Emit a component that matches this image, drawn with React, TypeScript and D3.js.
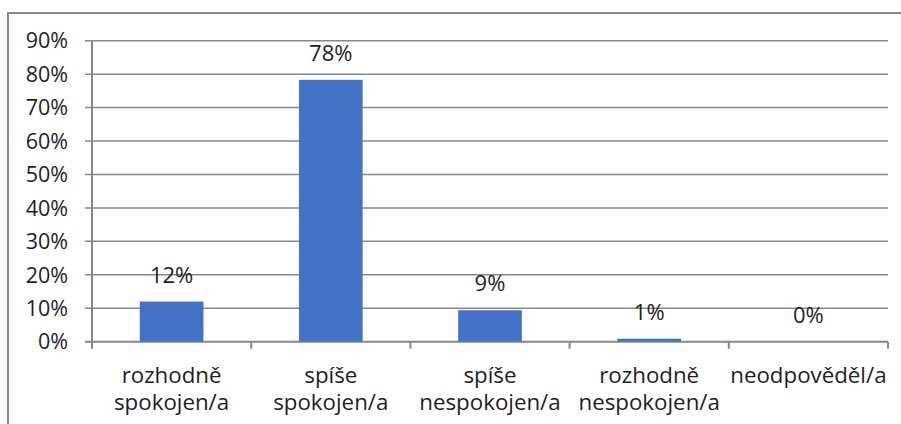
import React from "react";
import * as d3 from "d3";

const categories: string[][] = [
  ["rozhodně", "spokojen/a"],
  ["spíše", "spokojen/a"],
  ["spíše", "nespokojen/a"],
  ["rozhodně", "nespokojen/a"],
  ["neodpověděl/a"],
];
const values: number[] = [12.0, 78.3, 9.4, 0.9, 0];
const yTicks: number[] = [0, 10, 20, 30, 40, 50, 60, 70, 80, 90];

const W = 901;
const H = 424;
const plotLeft = 92;
const plotRight = 888;
const plotTop = 40.7;
const plotBottom = 341.7;
const FONT = "'Open Sans', sans-serif";
const TEXT = "#1e1e1e";
const GRID = "#888888";

export default function App() {
  const x = d3
    .scaleBand<number>()
    .domain(values.map((_, i) => i))
    .range([plotLeft, plotRight])
    .paddingInner(0.6)
    .paddingOuter(0.3);
  const step = x.step();
  const y = d3.scaleLinear().domain([0, 90]).range([plotBottom, plotTop]);

  return (
    <svg
      width={W}
      height={H}
      style={{ position: "absolute", left: 0, top: 0, background: "#fff" }}
    >
      <rect x={8} y={13} width={W + 20} height={H + 20} fill="#fff" stroke={GRID} strokeWidth={2} />
      {yTicks.map((t) => (
        <g key={t}>
          <line x1={plotLeft - 7} x2={plotRight} y1={y(t)} y2={y(t)} stroke={GRID} strokeWidth={t === 0 ? 2 : 1.5} />
          <text
            x={68}
            y={y(t)}
            dy="0.36em"
            textAnchor="end"
            fontFamily={FONT}
            fontSize={21.5}
            fill={TEXT}
          >
            {t}%
          </text>
        </g>
      ))}
      <line x1={plotLeft} x2={plotLeft} y1={plotTop} y2={plotBottom + 7} stroke={GRID} strokeWidth={2} />
      {values.map((_, i) => {
        const bx = (x(i) as number) - (step - x.bandwidth()) / 2 + step;
        return <line key={"t" + i} x1={bx} x2={bx} y1={plotBottom} y2={plotBottom + 7} stroke={GRID} strokeWidth={2} />;
      })}
      {values.map((v, i) => (
        <rect
          key={"b" + i}
          x={x(i) as number}
          width={x.bandwidth()}
          y={y(v)}
          height={plotBottom - y(v)}
          fill="#4472C4"
        />
      ))}
      {values.map((v, i) => (
        <text
          key={"l" + i}
          x={(x(i) as number) + x.bandwidth() / 2}
          y={y(v) - 19}
          textAnchor="middle"
          fontFamily={FONT}
          fontSize={22}
          fill={TEXT}
        >
          {Math.round(v)}%
        </text>
      ))}
      {categories.map((lines, i) => (
        <text
          key={"c" + i}
          x={(x(i) as number) + x.bandwidth() / 2}
          y={383}
          textAnchor="middle"
          fontFamily={FONT}
          fontSize={22.3}
          fill={TEXT}
        >
          {lines.map((ln, j) => (
            <tspan key={j} x={(x(i) as number) + x.bandwidth() / 2} y={383 + j * 27}>
              {ln}
            </tspan>
          ))}
        </text>
      ))}
    </svg>
  );
}
